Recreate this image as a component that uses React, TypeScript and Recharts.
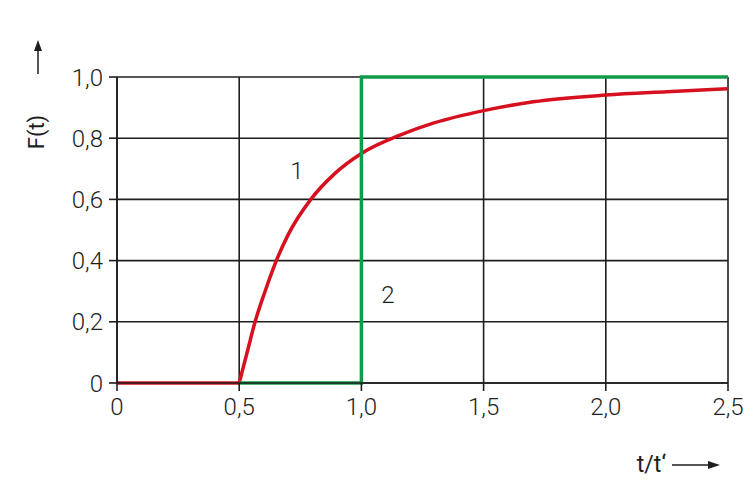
import { CartesianGrid, Label, Line, LineChart, XAxis, YAxis } from 'recharts';

const flatT = [0, 0.5];
const flatF = [0, 0];
const riseT = [0.5, 0.535, 0.565, 0.606, 0.648, 0.7, 0.793, 0.892, 1.0, 1.158, 1.294, 1.5, 1.703, 2.0, 2.25, 2.5];
const riseF = [0, 0.108, 0.2, 0.3, 0.392, 0.484, 0.6, 0.685, 0.75, 0.81, 0.849, 0.89, 0.919, 0.941, 0.952, 0.962];

// Kurve 2: Sprungantwort
const stepT = [0.5, 1.0, 1.0, 2.5];
const stepF = [0, 0, 1.0, 1.0];

const xTicks = [0, 0.5, 1.0, 1.5, 2.0, 2.5];
const yTicks = [0, 0.2, 0.4, 0.6, 0.8, 1.0];

const flatData = flatT.map((t, i) => ({ t, f: flatF[i] }));
const riseData = riseT.map((t, i) => ({ t, f: riseF[i] }));
const stepData = stepT.map((t, i) => ({ t, f: stepF[i] }));

const fmt = (v: number) => (v === 0 ? '0' : v.toFixed(1).replace('.', ','));

const FONT = 'Roboto, "DejaVu Sans", sans-serif';
const INK = '#1e1e1e';
const RED = '#d6101f';
const GREEN = '#119b49';

const YLabel = (props: any) => {
  const vb = props.viewBox || { x: 0, y: 77 };
  const top = vb.y;
  return (
    <g>
      <text
        x={0}
        y={0}
        transform={`translate(44, ${top + 55}) rotate(-90)`}
        textAnchor="middle"
        fontSize={22}
        fontFamily={FONT}
        fill={INK}
      >
        F(t)
      </text>
      <line x1={38} y1={top - 3} x2={38} y2={top - 28} stroke={INK} strokeWidth={1.5} />
      <path d={`M34,${top - 26} L38,${top - 37} L42,${top - 26} Z`} fill={INK} />
    </g>
  );
};

const XLabel = (props: any) => {
  const vb = props.viewBox || { x: 117, y: 383, width: 611 };
  const right = vb.x + vb.width;
  const y = 465;
  return (
    <g>
      <text x={right - 62} y={y + 7} textAnchor="end" fontSize={23} fontFamily={FONT} fill={INK}>
        t/t‘
      </text>
      <line x1={right - 56} y1={y} x2={right - 18} y2={y} stroke={INK} strokeWidth={1.5} />
      <path d={`M${right - 20},${y - 4} L${right - 8},${y} L${right - 20},${y + 4} Z`} fill={INK} />
    </g>
  );
};

const tickStyle = { fill: INK, fontSize: 24, fontFamily: FONT, fontWeight: 300 };

export default function App() {
  return (
    <div style={{ position: 'absolute', left: 0, top: 0, width: 755, height: 488, background: '#fff' }}>
      <LineChart width={755} height={488} margin={{ top: 77, right: 27, bottom: 75, left: 0 }}>
        <CartesianGrid stroke={INK} strokeWidth={1.6} strokeOpacity={1} />
        <XAxis
          type="number"
          dataKey="t"
          domain={[0, 2.5]}
          ticks={xTicks}
          tickFormatter={fmt}
          height={30}
          tickSize={8}
          tickMargin={7}
          axisLine={{ stroke: INK, strokeWidth: 1.6 }}
          tickLine={{ stroke: INK, strokeWidth: 1.6 }}
          tick={tickStyle}
          allowDuplicatedCategory={false}
        >
          <Label content={<XLabel />} />
        </XAxis>
        <YAxis
          type="number"
          domain={[0, 1]}
          ticks={yTicks}
          tickFormatter={fmt}
          width={117}
          tickSize={8}
          tickMargin={6}
          axisLine={{ stroke: INK, strokeWidth: 1.6 }}
          tickLine={{ stroke: INK, strokeWidth: 1.6 }}
          tick={tickStyle}
        >
          <Label content={<YLabel />} />
        </YAxis>
        <Line data={flatData} dataKey="f" type="linear" stroke={RED} strokeWidth={3.5} dot={false} isAnimationActive={false} />
        <Line data={riseData} dataKey="f" type="monotone" stroke={RED} strokeWidth={3.5} dot={false} isAnimationActive={false} />
        <Line data={stepData} dataKey="f" type="linear" stroke={GREEN} strokeWidth={3.5} dot={false} isAnimationActive={false} />
        <text x={297} y={179} textAnchor="middle" fontSize={24} fontFamily={FONT} fontWeight={300} fill={INK}>
          1
        </text>
        <text x={388} y={303} textAnchor="middle" fontSize={24} fontFamily={FONT} fontWeight={300} fill={INK}>
          2
        </text>
      </LineChart>
    </div>
  );
}
